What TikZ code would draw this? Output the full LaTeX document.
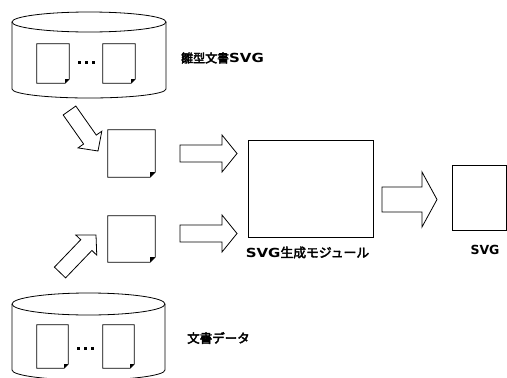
\documentclass[tikz,border=0pt]{standalone}
\usepackage{fontspec}
\newfontfamily\jp{Noto Sans CJK JP}[FakeBold=3]
\newfontfamily\latA{DejaVu Sans}[FakeStretch=1.2,BoldFeatures={FakeStretch=1.2}]
\newfontfamily\latC{DejaVu Sans}
\usetikzlibrary{calc}
\newcommand{\blockarrow}[5]{%
  \coordinate (bax) at ($(#2)!#5!(#1)$);
  \draw[ln,fill=white] ($(#1)!#3!90:(#2)$) -- ($(bax)!#3!90:(#2)$) -- ($(bax)!#4!90:(#2)$) -- (#2)
    -- ($(bax)!#4!-90:(#2)$) -- ($(bax)!#3!-90:(#2)$) -- ($(#1)!#3!-90:(#2)$) -- cycle;}
\newcommand{\docshape}[2]{%
  \draw[ln] (#1.north west) -- (#1.north east) -- ([yshift=#2]#1.south east)
    -- ([xshift=-#2]#1.south east) -- (#1.south west) -- cycle;
  \fill ([yshift=#2]#1.south east) -- ([xshift=-#2]#1.south east)
    -- ([xshift=-#2,yshift=#2]#1.south east) -- cycle;}
\begin{document}
\begin{tikzpicture}[x=1pt,y=-1pt,
  ln/.style={line width=0.8pt,draw=black},
  docnode/.style={rectangle,inner sep=0pt},
  lbl/.style={inner sep=0pt},
  dot/.style={rectangle,fill=black,inner sep=0pt,minimum size=3pt}]
\useasboundingbox (0,0) rectangle (507,378);

% top cylinder
\draw[ln] (89,22) ellipse [x radius=77pt, y radius=10pt];
\draw[ln] (12,22) -- (12,89) arc[start angle=180, end angle=360, x radius=77pt, y radius=9pt] -- (166,22);
\node[docnode,minimum width=32pt,minimum height=39pt] (t1) at (53,63.5) {};
\node[docnode,minimum width=32pt,minimum height=39pt] (t2) at (119,63.5) {};
\docshape{t1}{4pt}
\docshape{t2}{4pt}
\node[dot] (td1) at (79,62) {};
\node[dot] (td2) at (86,62) {};
\node[dot] (td3) at (93,62) {};
\node[lbl] (ltop) at (222.5,58) {\jp\fontsize{12pt}{14pt}\selectfont 雛型文書{\latA\bfseries\fontsize{12.5pt}{14pt}\selectfont SVG}};

% bottom cylinder
\draw[ln] (88.5,304) ellipse [x radius=76.5pt, y radius=11pt];
\draw[ln] (12,304) -- (12,370) arc[start angle=180, end angle=360, x radius=76.5pt, y radius=10pt] -- (165,304);
\node[docnode,minimum width=31pt,minimum height=43pt] (b1) at (52.5,346.5) {};
\node[docnode,minimum width=31pt,minimum height=43pt] (b2) at (118.5,346.5) {};
\docshape{b1}{4pt}
\docshape{b2}{4pt}
\node[dot] (bd1) at (78,348) {};
\node[dot] (bd2) at (85,348) {};
\node[dot] (bd3) at (92,348) {};
\node[lbl] (lbot) at (218.5,338) {\jp\fontsize{12.5pt}{14pt}\selectfont 文書データ};

% middle documents
\node[docnode,minimum width=47pt,minimum height=47pt] (d1) at (131.5,153.5) {};
\node[docnode,minimum width=47pt,minimum height=46pt] (d2) at (131.5,239) {};
\docshape{d1}{5pt}
\docshape{d2}{5pt}

% module box
\node[ln,draw,rectangle,minimum width=125pt,minimum height=97pt] (mod) at (310.5,188.5) {};
\node[lbl] (lmod) at (307.5,252.5) {\jp\fontsize{12.8pt}{14pt}\selectfont{\latA\bfseries\fontsize{12.5pt}{14pt}\selectfont SVG}生成モジュール};

% output SVG
\node[ln,draw,rectangle,minimum width=54pt,minimum height=65pt] (out) at (479,197.5) {};
\node[lbl] (lout) at (485,250) {\latC\bfseries\fontsize{12.5pt}{14pt}\selectfont SVG};

% block arrows
\coordinate (a1t) at (69.5,110.5); \coordinate (a1h) at (98,151);
\coordinate (a2t) at (60,272.5);   \coordinate (a2h) at (96,235);
\coordinate (a3t) at (180,153.5);  \coordinate (a3h) at (237,153.5);
\coordinate (a4t) at (180,233.5);  \coordinate (a4h) at (237,233.5);
\coordinate (a5t) at (382,199.5);  \coordinate (a5h) at (437,199.5);
\blockarrow{a1t}{a1h}{7.75pt}{14.5pt}{14pt}
\blockarrow{a2t}{a2h}{7.75pt}{14.5pt}{14pt}
\blockarrow{a3t}{a3h}{8.5pt}{18.5pt}{15pt}
\blockarrow{a4t}{a4h}{8.5pt}{18.5pt}{15pt}
\blockarrow{a5t}{a5h}{12.5pt}{27.5pt}{15pt}
\end{tikzpicture}
\end{document}
